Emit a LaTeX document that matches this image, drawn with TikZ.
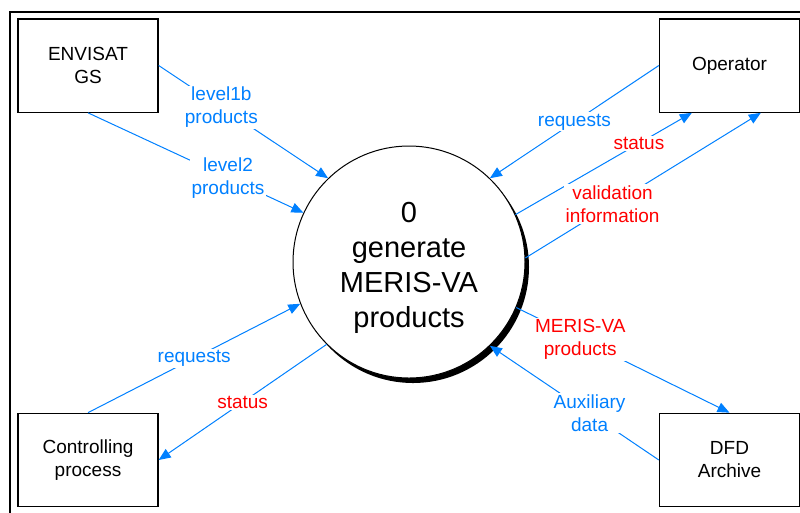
\documentclass[tikz,border=0pt]{standalone}
\usepackage{fontspec}
\setmainfont{Liberation Sans}
\usetikzlibrary{shapes}
\usetikzlibrary{shadows}
\usetikzlibrary{arrows.meta}
\definecolor{flowblue}{RGB}{0,128,255}
\definecolor{flowred}{RGB}{255,0,0}
\tikzset{
    extbox/.style = {rectangle, draw=black, line width=1pt, minimum width=105pt, minimum height=70pt, inner sep=0pt, align=center, font=\fontsize{14.25}{17.25}\selectfont},
    procnode/.style = {circle, draw=black, line width=0.75pt, fill=white, minimum size=174pt, inner sep=0pt, align=center, text height=103pt, font=\fontsize{21.75}{26.25}\selectfont, drop shadow={fill=black, opacity=1, shadow xshift=3pt, shadow yshift=-3.75pt}},
    flowb/.style = {-{Triangle[length=9pt,width=7.5pt]}, line width=0.75pt, draw=flowblue},
    lblb/.style = {fill=white, inner sep=1pt, align=center, text=flowblue, font=\fontsize{14.25}{17.25}\selectfont},
    lblr/.style = {lblb, text=flowred},
    outerframe/.style = {line width=1.5pt, draw=black}
}
\begin{document}
\begin{tikzpicture}[x=0.75pt,y=-0.75pt]
\useasboundingbox (0,0) rectangle (800,512);
\draw[outerframe] (10,12) rectangle (812,524);
%
\node[extbox] at (88,65.5) (env) {ENVISAT\\GS};
\node[extbox] at (729.5,65.5) (oper) {Operator};
\node[extbox] at (88,460) (ctrl) {Controlling\\process};
\node[extbox] at (729.5,460) (arch) {DFD\\Archive};
\node[procnode] at (409,262) (proc) {0\\generate\\MERIS-VA\\products};
%
\draw[flowb] (env.east) -- node[lblb,pos=0.37] {level1b\\products} (proc.134);
\draw[flowb] (env.south) -- node[lblb,pos=0.65] {level2\\products} (proc.155);
\draw[flowb] (oper.west) -- node[lblb,pos=0.5] {requests} (proc.46);
\draw[flowb] (proc.24) -- node[lblr,pos=0.7] {status} ([xshift=24.75pt]oper.south west);
\draw[flowb] (proc.2) -- node[lblr,pos=0.37] {validation\\information} ([xshift=76.5pt]oper.south west);
\draw[flowb] (ctrl.north) -- node[lblb,pos=0.5] {requests} (proc.201);
\draw[flowb] (proc.225) -- node[lblr,pos=0.5] {status} (ctrl.east);
\draw[flowb] (proc.-23) -- node[lblr,pos=0.3] {MERIS-VA\\products} (arch.north);
\draw[flowb] (arch.west) -- node[lblb,pos=0.41] {Auxiliary\\data} (proc.-46);
\end{tikzpicture}
\end{document}
